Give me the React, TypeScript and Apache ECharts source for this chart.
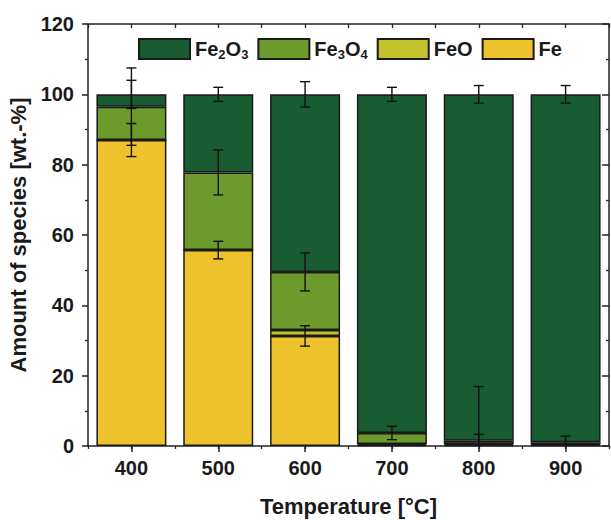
import React, { useEffect, useRef } from "react";
import * as echarts from "echarts";

const categories = ["400", "500", "600", "700", "800", "900"];
const fe2o3 = [3.5, 22.2, 50.5, 96.3, 98.5, 98.9];
const fe3o4 = [9.5, 22.1, 16.5, 3.1, 0.9, 0.6];
const feo = [0, 0, 1.7, 0.3, 0.3, 0.2];
const fe = [87, 55.7, 31.3, 0.3, 0.3, 0.3];
const errFe2o3 = [4, 2, 3.6, 2, 2.5, 2.5];
const errFe3o4 = [11, 6.4, 5.4, 1.9, 15.4, 1.7];
const errFe = [4.7, 2.5, 2.9, 0, 3.0, 0];
const yTicks = [0, 20, 40, 60, 80, 100, 120];

const colors = {
  Fe2O3: "#195c32",
  Fe3O4: "#6d9a2c",
  FeO: "#c3c22c",
  Fe: "#eec22c",
};

const FONT = "'Liberation Sans', Arial, sans-serif";

export default function App() {
  const ref = useRef<HTMLDivElement>(null);
  useEffect(() => {
    const chart = echarts.init(ref.current!, null, { renderer: "svg" });

    const errData: number[][] = [];
    categories.forEach((_, i) => {
      const topFe = fe[i];
      const topFe3o4 = fe[i] + feo[i] + fe3o4[i];
      const topAll = topFe3o4 + fe2o3[i];
      if (errFe[i] > 0) errData.push([i, topFe, errFe[i]]);
      if (errFe3o4[i] > 0) errData.push([i, topFe3o4, errFe3o4[i]]);
      if (errFe2o3[i] > 0) errData.push([i, topAll, errFe2o3[i]]);
    });

    const barCommon = {
      type: "bar" as const,
      stack: "all",
      barWidth: 70,
      xAxisIndex: 0,
      yAxisIndex: 0,
    };
    const border = { borderColor: "#1a1a1a", borderWidth: 1.5 };

    const nameMap: Record<string, string> = {
      Fe2O3: "{a|Fe}{s|2}{a|O}{s|3}",
      Fe3O4: "{a|Fe}{s|3}{a|O}{s|4}",
      FeO: "{a|FeO}",
      Fe: "{a|Fe}",
    };

    const axisLine = { show: true, lineStyle: { color: "#222", width: 1.5 } };

    chart.setOption({
      animation: false,
      textStyle: { fontFamily: FONT },
      grid: { left: 88, right: 2, top: 24, bottom: 74, containLabel: false, outerBoundsMode: "none" },
      legend: {
        data: ["Fe2O3", "Fe3O4", "FeO", "Fe"],
        left: 133,
        top: 33,
        itemWidth: 51,
        itemHeight: 20,
        itemGap: 9,
        icon: "rect",
        formatter: (n: string) => nameMap[n],
        textStyle: {
          fontFamily: FONT,
          rich: {
            a: { fontSize: 20, fontWeight: "bold", color: "#1a1a1a", fontFamily: FONT, lineHeight: 24, verticalAlign: "middle" },
            s: { fontSize: 13, fontWeight: "bold", color: "#1a1a1a", fontFamily: FONT, lineHeight: 24, verticalAlign: "bottom", padding: [6, 0, 0, 0] },
          },
        },
      },
      xAxis: [
        {
          type: "category",
          data: categories,
          position: "bottom",
          boundaryGap: true,
          axisLine,
          axisTick: { show: true, alignWithLabel: true, length: 6, lineStyle: { color: "#222", width: 1.5 } },
          axisLabel: { fontSize: 20, fontWeight: "bold", color: "#1a1a1a", margin: 12, fontFamily: FONT },
          splitLine: { show: false },
          name: "Temperature [°C]",
          nameLocation: "middle",
          nameGap: 49,
          nameTextStyle: { fontSize: 22, fontWeight: "bold", color: "#1a1a1a", fontFamily: FONT },
        },
        {
          type: "value",
          min: 350,
          max: 950,
          interval: 50,
          position: "bottom",
          axisLine: { show: false },
          axisTick: { show: true, length: 3, lineStyle: { color: "#222", width: 1.3 } },
          axisLabel: { show: false },
          splitLine: { show: false },
        },
        {
          type: "value",
          min: 350,
          max: 950,
          interval: 50,
          position: "top",
          axisLine,
          axisTick: { show: true, inside: true, length: 4, lineStyle: { color: "#222", width: 1.3 } },
          axisLabel: { show: false },
          splitLine: { show: false },
        },
      ],
      yAxis: [
        {
          type: "value",
          min: 0,
          max: 120,
          interval: 20,
          position: "left",
          axisLine,
          axisTick: { show: true, length: 6, lineStyle: { color: "#222", width: 1.5 } },
          minorTick: { show: true, splitNumber: 2, length: 3, lineStyle: { color: "#222", width: 1.3 } },
          axisLabel: {
            fontSize: 20,
            fontWeight: "bold",
            color: "#1a1a1a",
            margin: 14,
            fontFamily: FONT,
            formatter: (v: number) => (yTicks.includes(v) ? String(v) : ""),
          },
          splitLine: { show: false },
          minorSplitLine: { show: false },
          name: "Amount of species [wt.-%]",
          nameLocation: "middle",
          nameGap: 58,
          nameTextStyle: { fontSize: 22, fontWeight: "bold", color: "#1a1a1a", fontFamily: FONT },
        },
        {
          type: "value",
          min: 0,
          max: 120,
          interval: 20,
          position: "right",
          axisLine,
          axisTick: { show: true, inside: true, length: 7, lineStyle: { color: "#222", width: 1.5 } },
          minorTick: { show: true, splitNumber: 2, length: 3, lineStyle: { color: "#222", width: 1.3 } },
          axisLabel: { show: false },
          splitLine: { show: false },
        },
      ],
      series: [
        { ...barCommon, name: "Fe", data: fe, itemStyle: { color: colors.Fe, ...border } },
        { ...barCommon, name: "FeO", data: feo, itemStyle: { color: colors.FeO, ...border } },
        { ...barCommon, name: "Fe3O4", data: fe3o4, itemStyle: { color: colors.Fe3O4, ...border } },
        { ...barCommon, name: "Fe2O3", data: fe2o3, itemStyle: { color: colors.Fe2O3, ...border } },
        {
          type: "custom",
          name: "err",
          xAxisIndex: 0,
          yAxisIndex: 0,
          z: 10,
          data: errData,
          renderItem: (params: any, api: any) => {
            const x = api.value(0);
            const top = api.value(1);
            const err = api.value(2);
            const hi = top + err;
            const loRaw = top - err;
            const lo = Math.max(loRaw, 0);
            const pHi = api.coord([x, hi]);
            const pLo = api.coord([x, lo]);
            const cw = 5;
            const style = { stroke: "#111", lineWidth: 1.4 };
            const children: any[] = [
              { type: "line", shape: { x1: pHi[0], y1: pHi[1], x2: pLo[0], y2: pLo[1] }, style },
              { type: "line", shape: { x1: pHi[0] - cw, y1: pHi[1], x2: pHi[0] + cw, y2: pHi[1] }, style },
            ];
            if (loRaw >= 0) {
              children.push({ type: "line", shape: { x1: pLo[0] - cw, y1: pLo[1], x2: pLo[0] + cw, y2: pLo[1] }, style });
            }
            return { type: "group", children };
          },
        },
      ],
    });
    return () => chart.dispose();
  }, []);
  return (
    <div
      ref={ref}
      style={{ position: "fixed", left: 0, top: 0, width: 611, height: 520, background: "#fff" }}
    />
  );
}
